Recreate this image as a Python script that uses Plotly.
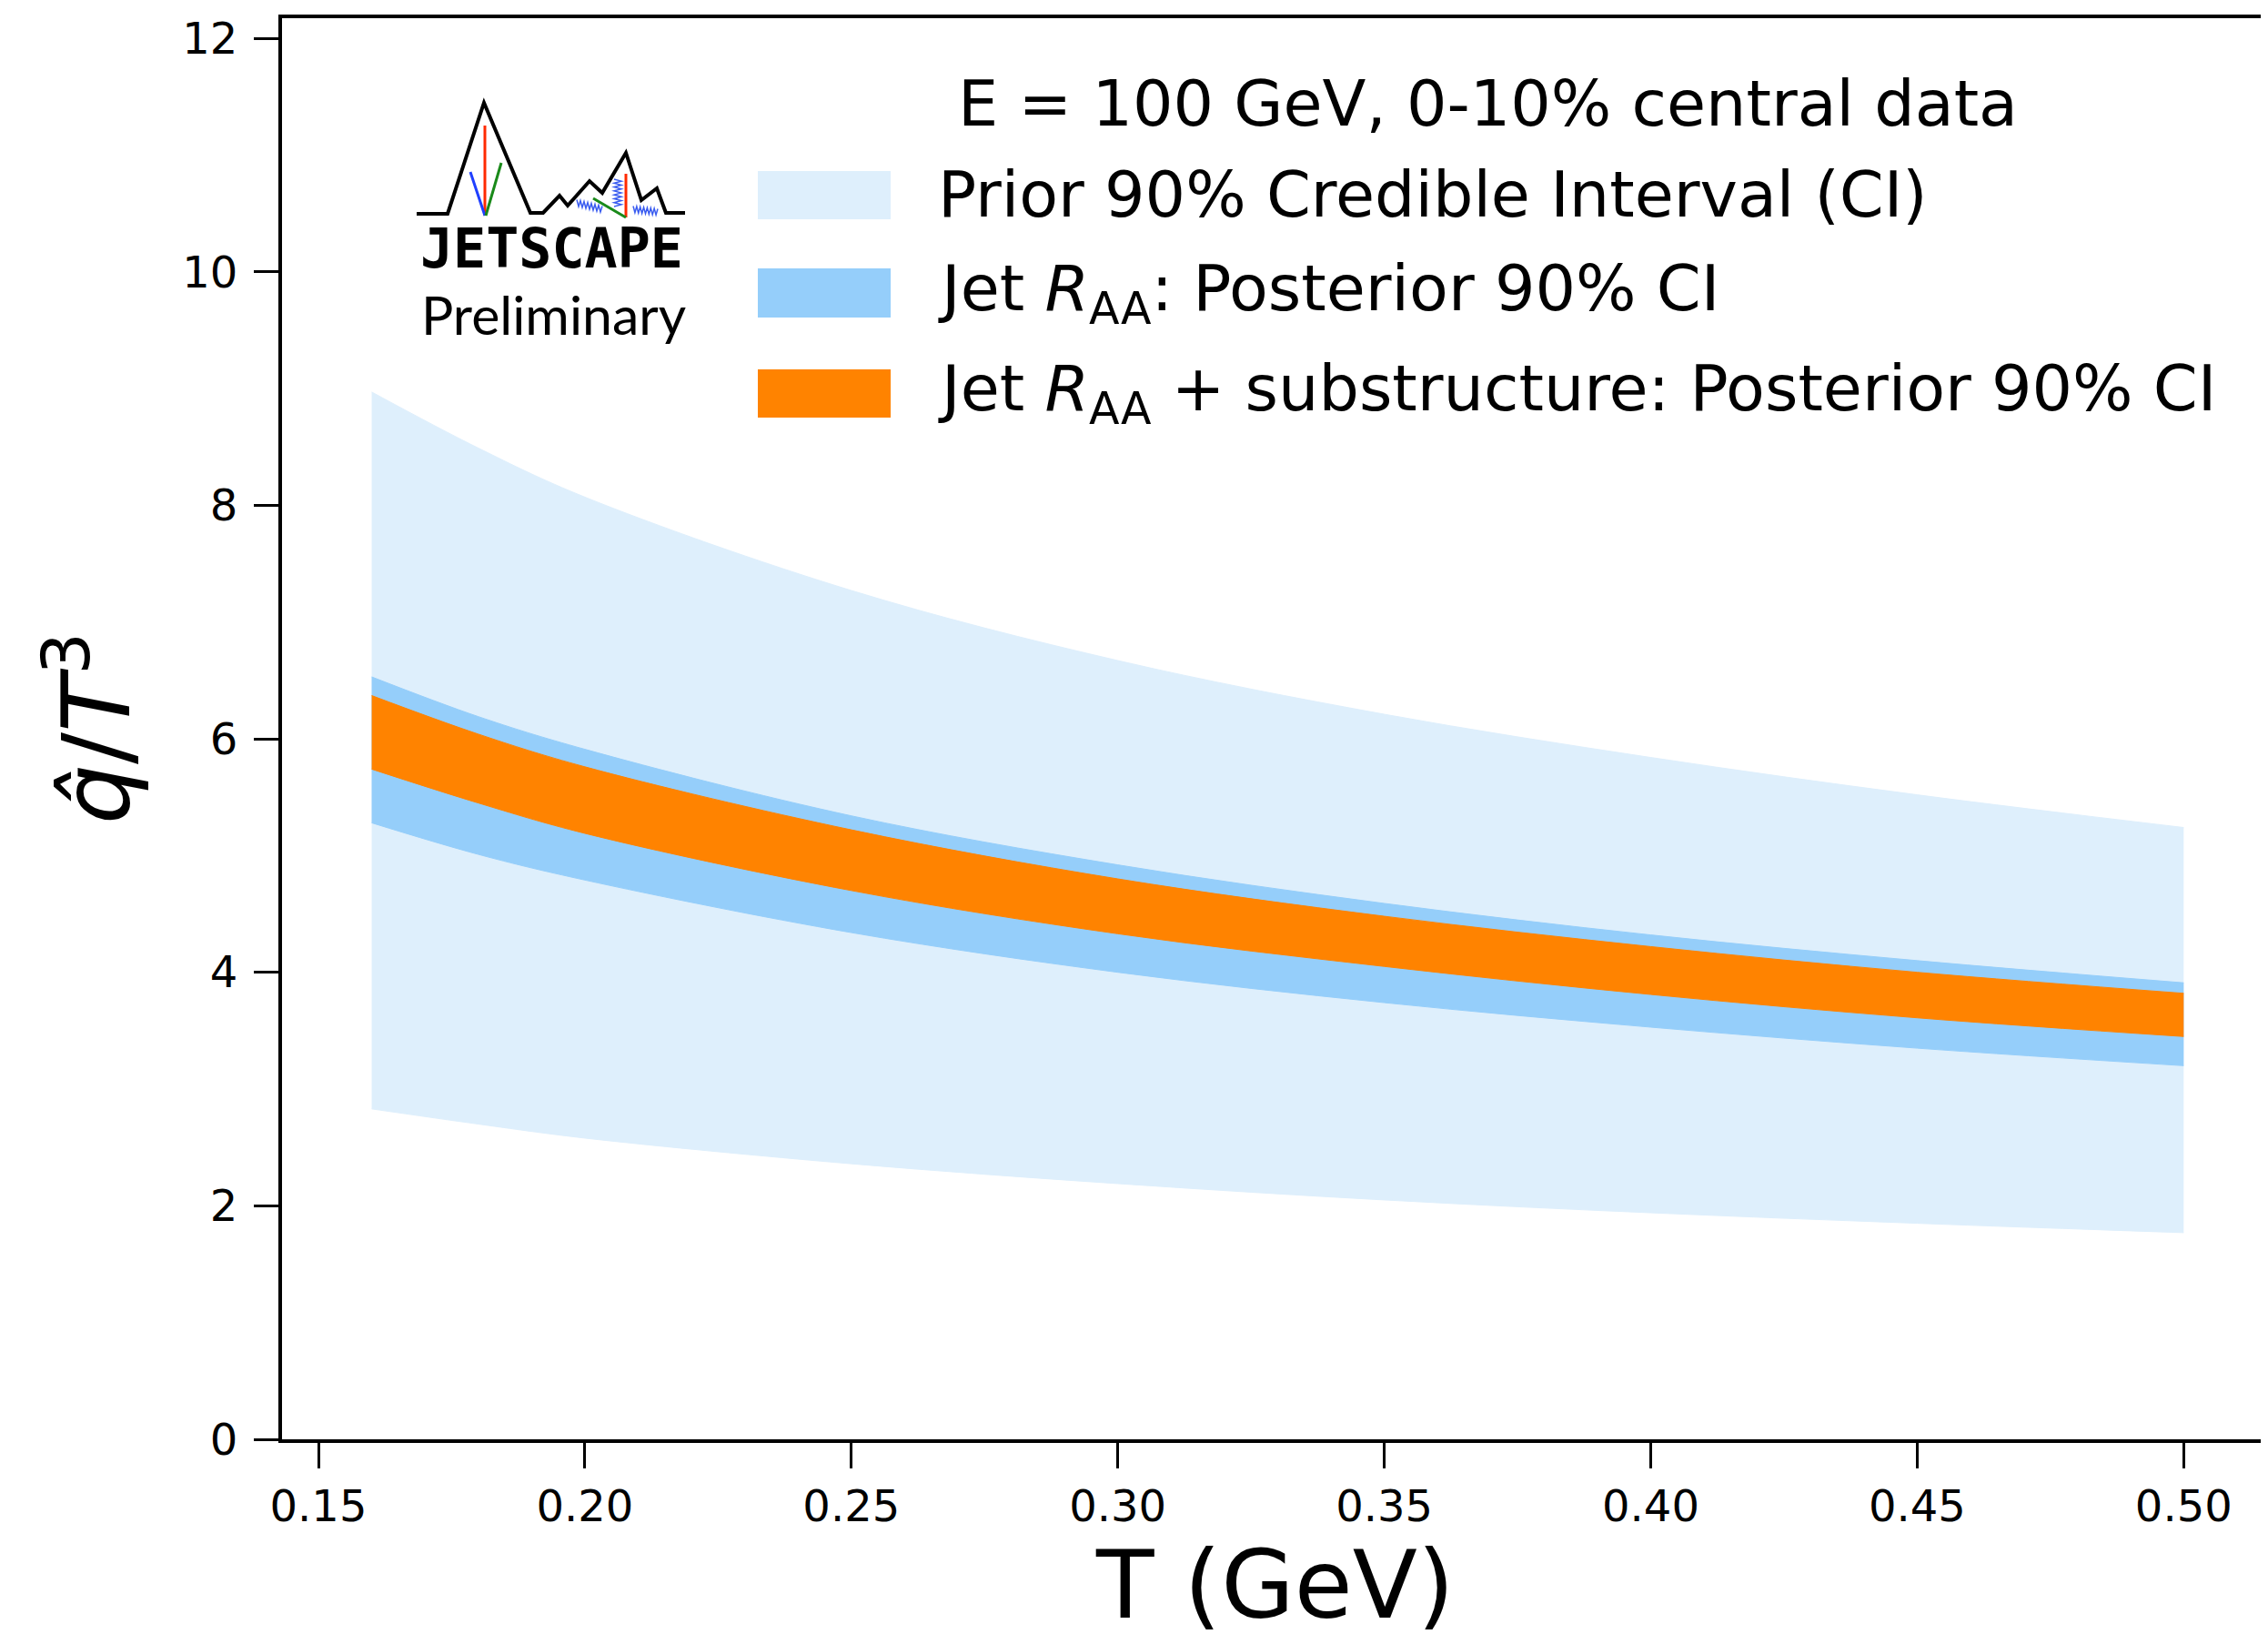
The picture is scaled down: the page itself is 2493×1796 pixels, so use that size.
import plotly.graph_objects as go

# ---------------- data ----------------
T_vals = [0.16, 0.18, 0.20, 0.25, 0.30, 0.35, 0.40, 0.45, 0.50]
prior_hi = [8.97, 8.49, 8.07, 7.27, 6.67, 6.21, 5.84, 5.52, 5.24]
prior_lo = [2.83, 2.70, 2.58, 2.36, 2.19, 2.05, 1.94, 1.85, 1.77]
raa_hi = [6.53, 6.19, 5.91, 5.34, 4.92, 4.59, 4.32, 4.10, 3.91]
raa_lo = [5.28, 5.01, 4.79, 4.34, 4.00, 3.74, 3.53, 3.35, 3.20]
sub_hi = [6.37, 6.04, 5.76, 5.22, 4.80, 4.48, 4.22, 4.00, 3.82]
sub_lo = [5.74, 5.45, 5.19, 4.70, 4.33, 4.05, 3.81, 3.61, 3.45]

x_ticks = [0.15, 0.20, 0.25, 0.30, 0.35, 0.40, 0.45, 0.50]
y_ticks = [0, 2, 4, 6, 8, 10, 12]

legend_title = "E = 100 GeV, 0-10% central data"
legend_labels = [
    "Prior 90% Credible Interval (CI)",
    "Jet <i>R</i><sub>AA</sub>: Posterior 90% CI",
    "Jet <i>R</i><sub>AA</sub> + substructure: Posterior 90% CI",
]
colors = ["#deeffc", "#95cefa", "#ff8300"]

# ---------------- geometry (page pixels; page body has an 8px margin) ----------------
OFF = 8
FW, FH = 2493 - OFF, 1796 - OFF
L, R, TOP, B = 310, 2493, 20, 1582          # plot area in page pixels
PW, PH = R - L, B - TOP
FONT = "DejaVu Sans"


def px(x, y):
    return (x - L) / PW, (B - y) / PH


fig = go.Figure()

bands = [(prior_lo, prior_hi), (raa_lo, raa_hi), (sub_lo, sub_hi)]
for (lo, hi), col in zip(bands, colors):
    fig.add_trace(go.Scatter(x=T_vals, y=lo, mode="lines",
                             line=dict(color=col, width=1, shape="spline", smoothing=1.0),
                             showlegend=False, hoverinfo="skip"))
    fig.add_trace(go.Scatter(x=T_vals, y=hi, mode="lines", fill="tonexty", fillcolor=col,
                             line=dict(color=col, width=1, shape="spline", smoothing=1.0),
                             showlegend=False, hoverinfo="skip"))

shapes = []
annotations = []

# ---------------- custom legend ----------------
tx, ty = px(1635, 114)
annotations.append(dict(x=tx, y=ty, xref="paper", yref="paper", text=legend_title,
                        showarrow=False, xanchor="center", yanchor="middle",
                        font=dict(family=FONT, size=70, color="black")))
rows = [(188, 241), (295, 349), (406, 459)]
for (y0, y1), lab, col in zip(rows, legend_labels, colors):
    x0p, y0p = px(833, y1)
    x1p, y1p = px(979, y0)
    shapes.append(dict(type="rect", xref="paper", yref="paper", x0=x0p, x1=x1p,
                       y0=y0p, y1=y1p, fillcolor=col, line=dict(width=0)))
    lx, ly = px(1029, (y0 + y1) / 2)
    annotations.append(dict(x=lx, y=ly, xref="paper", yref="paper", text=lab,
                            showarrow=False, xanchor="left", yanchor="middle",
                            font=dict(family=FONT, size=70, color="black")))

# ---------------- JETSCAPE logo ----------------
def path_from(points):
    s = ""
    for i, (x, y) in enumerate(points):
        a, b = px(x, y)
        s += ("M" if i == 0 else "L") + f"{a:.5f},{b:.5f} "
    return s.strip()

mountain = [(458, 235), (492, 235), (532, 113), (583, 234), (597, 234), (615, 215),
            (624, 226), (648, 199), (662, 212), (688, 168), (705, 220), (722, 207),
            (732, 234), (753, 234)]
shapes.append(dict(type="path", xref="paper", yref="paper", path=path_from(mountain),
                   line=dict(color="black", width=4)))
logo_lines = [
    ([(533, 138), (533, 237)], "#ff2a00"),
    ([(517, 189), (533, 237)], "#2040ff"),
    ([(551, 179), (534, 237)], "#1a8a1a"),
    ([(688, 191), (688, 239)], "#ff2a00"),
    ([(652, 218), (688, 239)], "#1a8a1a"),
]
for pts, col in logo_lines:
    shapes.append(dict(type="path", xref="paper", yref="paper", path=path_from(pts),
                       line=dict(color=col, width=3)))

def coil(xa, ya, xb, yb, n, amp, vertical=False):
    pts = []
    for i in range(n + 1):
        f = i / n
        x = xa + (xb - xa) * f
        y = ya + (yb - ya) * f
        off = amp if i % 2 else -amp
        if vertical:
            x += off
        else:
            y += off
        pts.append((x, y))
    return pts

for pts in [coil(634, 223, 662, 230, 14, 3.5), coil(679, 197, 679, 227, 14, 4, True),
            coil(696, 230, 723, 233, 14, 3.5)]:
    shapes.append(dict(type="path", xref="paper", yref="paper", path=path_from(pts),
                       line=dict(color="#3a5cf0", width=1.5)))

jx, jy = px(606, 273)
annotations.append(dict(x=jx, y=jy, xref="paper", yref="paper", text="<b>JETSCAPE</b>",
                        showarrow=False, xanchor="center", yanchor="middle",
                        font=dict(family="DejaVu Sans Mono", size=60, color="black")))
prx, pry = px(608, 345)
annotations.append(dict(x=prx, y=pry, xref="paper", yref="paper", text="Preliminary",
                        showarrow=False, xanchor="center", yanchor="middle",
                        font=dict(family="Lato", size=59, color="black")))

# ---------------- axis titles ----------------
ax_x, ax_y = px(1401, 1742)
annotations.append(dict(x=ax_x, y=ax_y, xref="paper", yref="paper", text="T (GeV)",
                        showarrow=False, xanchor="center", yanchor="middle",
                        font=dict(family=FONT, size=104, color="black")))
ay_x, ay_y = px(98, 801)
annotations.append(dict(x=ay_x, y=ay_y, xref="paper", yref="paper",
                        text="<i>q\u0302</i>/<i>T</i><sup>3</sup>", textangle=-90,
                        showarrow=False, xanchor="center", yanchor="middle",
                        font=dict(family=FONT, size=104, color="black")))

x_lo = 0.15 - 40 / 5858
x_hi = x_lo + PW / 5858
y_hi = PH / 128.33

fig.update_layout(
    width=FW, height=FH, autosize=False,
    margin=dict(l=L - OFF, r=FW - (R - OFF), t=TOP - OFF, b=FH - (B - OFF), pad=0),
    paper_bgcolor="white", plot_bgcolor="white",
    showlegend=False,
    shapes=shapes, annotations=annotations,
    xaxis=dict(range=[x_lo, x_hi], tickvals=x_ticks,
               ticktext=[f"{v:.2f}" for v in x_ticks],
               ticks="outside", ticklen=28, tickwidth=2.5, tickcolor="black",
               showline=True, linewidth=4, linecolor="black", mirror=True,
               showgrid=False, zeroline=False, ticklabelstandoff=0,
               tickfont=dict(family=FONT, size=48, color="black")),
    yaxis=dict(range=[0, y_hi], tickvals=y_ticks, ticktext=[str(v) for v in y_ticks],
               ticks="outside", ticklen=27, tickwidth=2.5, tickcolor="black",
               showline=True, linewidth=4, linecolor="black",
               showgrid=False, zeroline=False, ticklabelstandoff=8,
               tickfont=dict(family=FONT, size=48, color="black")),
)

fig.write_html("out.html", config={"displayModeBar": False})
